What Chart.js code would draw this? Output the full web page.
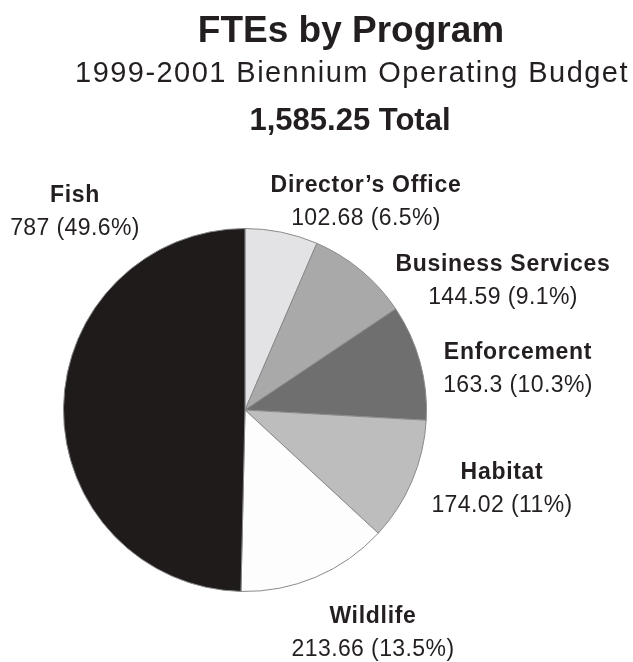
<!DOCTYPE html>
<html lang="en">
<head>
  <meta charset="UTF-8">
  <title>FTEs by Program</title>
  <script src="https://cdn.jsdelivr.net/npm/chart.js"></script>
  <style>
    body { margin: 0; background: #fff; }
  </style>
</head>
<body>

  <canvas id="fteChart" width="633" height="662"></canvas>

  <script>
    // FTEs per program, clockwise from 12 o'clock
    const programs = ['Director\u2019s Office', 'Business Services', 'Enforcement', 'Habitat', 'Wildlife', 'Fish'];
    const ftes = [102.68, 144.59, 163.3, 174.02, 213.66, 787];
    const sliceColors = ['#e3e3e5', '#a9a9a9', '#6f6f6f', '#bdbdbd', '#fdfdfd', '#1f1b1b'];

    const total = ftes.reduce((a, b) => a + b, 0);

    // label blocks: center x and baseline of the name line
    const labelPos = [
      [366, 192], [503, 271], [518, 359], [502, 479], [373, 623], [75, 202]
    ];

    const textColor = '#231f20';
    const fontFamily = '"Liberation Sans", Arial, sans-serif';

    const labelsPlugin = {
      id: 'sliceLabels',
      afterDraw(chart) {
        const ctx = chart.ctx;
        ctx.save();
        ctx.fillStyle = textColor;
        ctx.textAlign = 'center';
        ctx.textBaseline = 'alphabetic';

        // heading lines
        ctx.letterSpacing = '0px';
        ctx.font = 'bold 37px ' + fontFamily;
        ctx.fillText('FTEs by Program', 351, 42);
        ctx.letterSpacing = '1.45px';
        ctx.font = '29px ' + fontFamily;
        ctx.fillText('1999-2001 Biennium Operating Budget', 352, 82);
        ctx.letterSpacing = '0px';
        const totalText = total.toLocaleString('en-US', { minimumFractionDigits: 2 }) + ' Total';
        ctx.font = 'bold 31px ' + fontFamily;
        ctx.fillText(totalText, 350, 130);

        programs.forEach((name, i) => {
          const [x, y] = labelPos[i];
          const pct = Number((ftes[i] / total * 100).toFixed(1));
          ctx.letterSpacing = '0.7px';
          ctx.font = 'bold 23px ' + fontFamily;
          ctx.fillText(name, x, y);
          ctx.letterSpacing = '0.4px';
          ctx.font = '23px ' + fontFamily;
          ctx.fillText(ftes[i] + ' (' + pct + '%)', x, y + 33);
        });
        ctx.restore();
      }
    };

    new Chart(document.getElementById('fteChart'), {
      type: 'pie',
      data: {
        labels: programs,
        datasets: [{
          data: ftes,
          backgroundColor: sliceColors,
          borderColor: '#8a8a8a',
          borderWidth: 1
        }]
      },
      options: {
        responsive: false,
        animation: false,
        layout: {
          padding: { left: 63, right: 206, top: 228, bottom: 70 }
        },
        plugins: {
          legend: { display: false },
          tooltip: { enabled: false }
        }
      },
      plugins: [labelsPlugin]
    });
  </script>

</body>
</html>
